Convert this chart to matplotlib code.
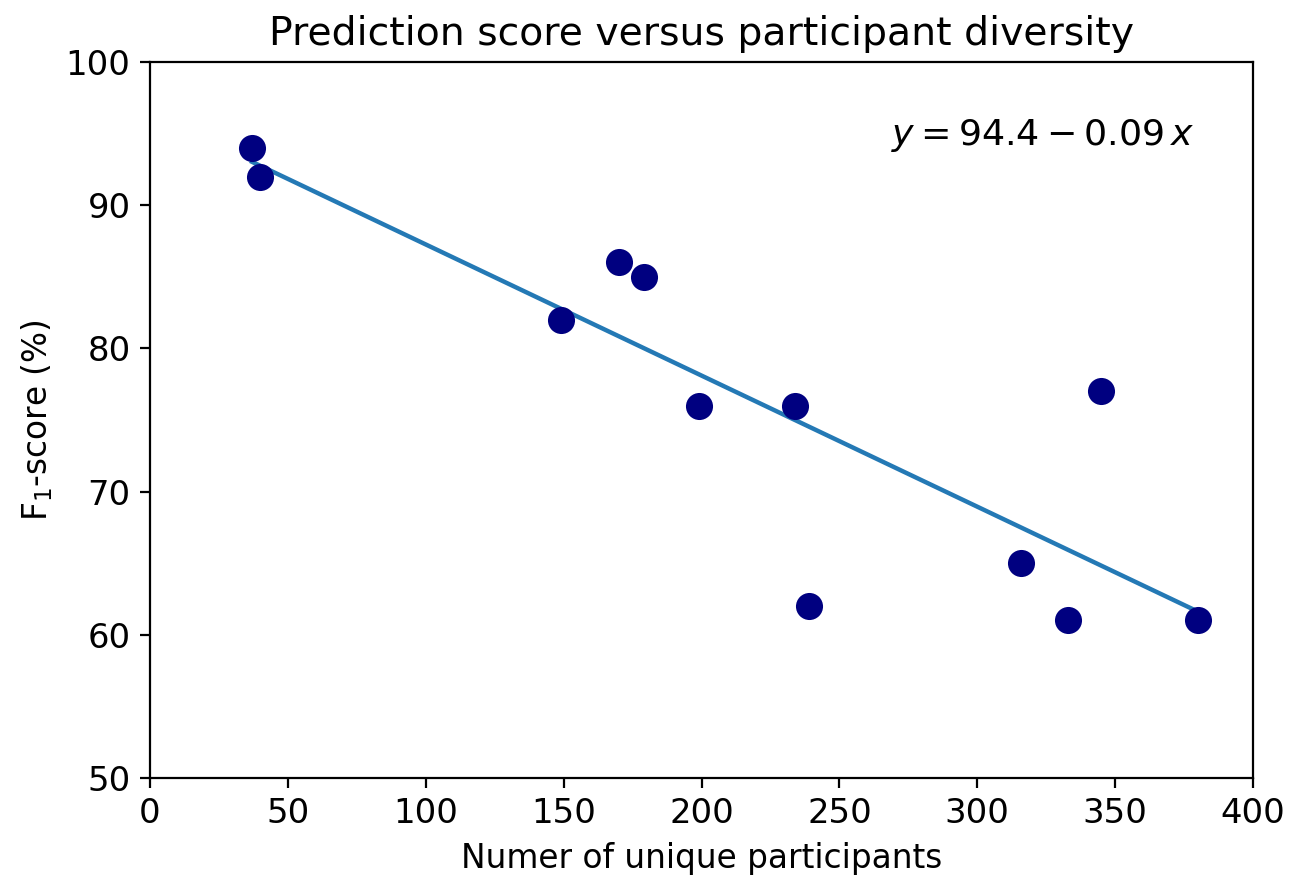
import numpy as np
import matplotlib
matplotlib.use("Agg")
import matplotlib.pyplot as plt

# Number of unique participants per dataset and the F1-score reached on it
participants = [37, 40, 149, 170, 179, 199, 234, 239, 316, 333, 345, 380]
f1_scores = [94, 92, 82, 86, 85, 76, 76, 62, 65, 61, 77, 61]
equation_label = r"$y = 94.4 - 0.09\,x$"

x = np.array(participants, dtype=float)
y = np.array(f1_scores, dtype=float)

fig = plt.figure(figsize=(6.455, 4.40), dpi=200)
ax = fig.add_axes([150 / 1291, 1 - 778 / 880, 1103 / 1291, 716 / 880])

ax.scatter(x, y, s=95, color="navy", zorder=3, linewidths=0)

# Least-squares trend line across the observed range
slope, intercept = np.polyfit(x, y, 1)
xs = np.array([x.min(), x.max()])
ax.plot(xs, intercept + slope * xs, color="#2479b5", linewidth=1.6, zorder=2)

ax.text(0.947, 0.898, equation_label, transform=ax.transAxes,
        ha="right", va="center", fontsize=13.1)

ax.set_xlim(0, 400)
ax.set_ylim(50, 100)
ax.set_xticks(np.arange(0, 401, 50))
ax.set_yticks(np.arange(50, 101, 10))
ax.tick_params(labelsize=12.2)
ax.set_title("Prediction score versus participant diversity", fontsize=14.2)
ax.set_xlabel("Numer of unique participants", fontsize=11.8)
ax.set_ylabel(r"F$_1$-score (%)", fontsize=11.8)

fig.savefig("out.png", dpi=200)
